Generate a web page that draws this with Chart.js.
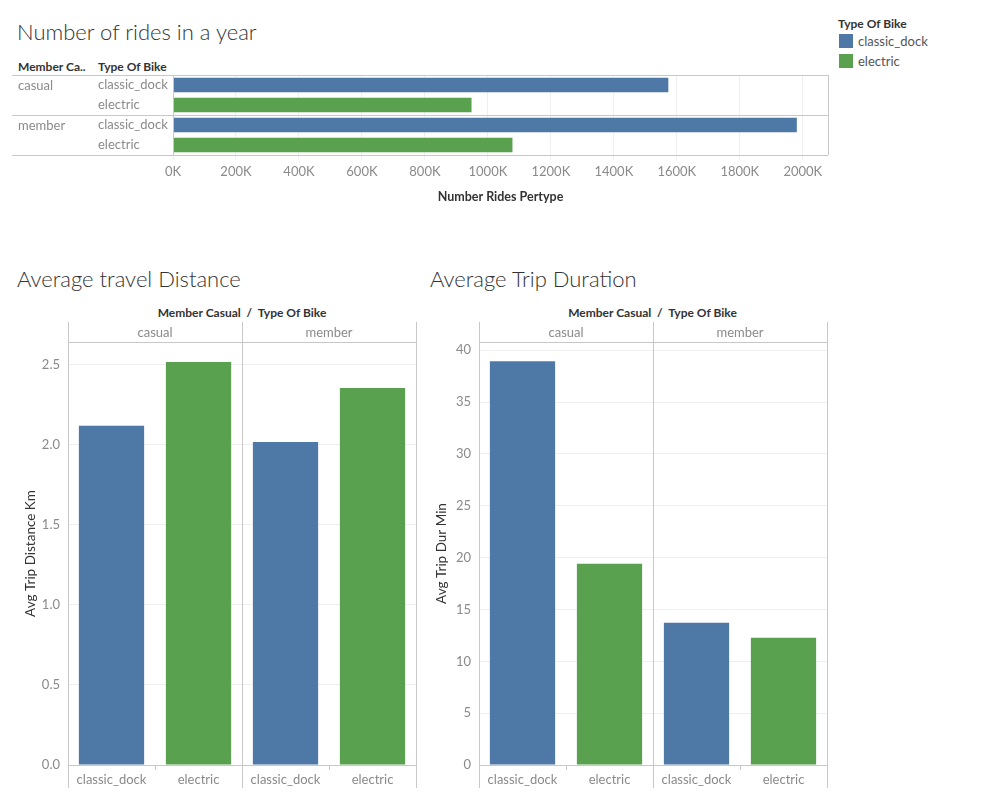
<!DOCTYPE html>
<html>
<head>
<meta charset="utf-8">
<script src="https://cdn.jsdelivr.net/npm/chart.js@4.4.1/dist/chart.umd.min.js"></script>
<style>
body { margin: 0; background: #fff; font-family: Lato, sans-serif; }
#page { position: relative; width: 999px; height: 799px; overflow: hidden; }
.abs { position: absolute; white-space: nowrap; }
.title { font-size: 22px; font-weight: 300; color: #333; line-height: 22px; }
.hdr { font-size: 12px; font-weight: 700; color: #333; line-height: 14px; }
.leg { font-size: 13px; color: #555; line-height: 14px; }
.sw { position: absolute; width: 14px; height: 14px; }
.box { position: absolute; }
</style>
</head>
<body>
<div id="page">
  <div class="abs title" style="left:17px;top:21px;">Number of rides in a year</div>
  <div class="abs hdr" style="left:18px;top:60px;">Member Ca..</div>
  <div class="abs hdr" style="left:98px;top:60px;">Type Of Bike</div>

  <div class="abs hdr" style="left:838px;top:17px;">Type Of Bike</div>
  <div class="sw" id="sw0" style="left:839px;top:34px;"></div>
  <div class="abs leg" style="left:858px;top:34px;">classic_dock</div>
  <div class="sw" id="sw1" style="left:839px;top:54px;"></div>
  <div class="abs leg" style="left:858px;top:54px;">electric</div>

  <div class="abs title" style="left:17px;top:268px;">Average travel Distance</div>
  <div class="abs title" style="left:430px;top:268px;">Average Trip Duration</div>
  <div class="abs hdr" style="left:68px;width:348px;text-align:center;top:306px;">Member Casual&nbsp; /&nbsp; Type Of Bike</div>
  <div class="abs hdr" style="left:478px;width:349px;text-align:center;top:306px;">Member Casual&nbsp; /&nbsp; Type Of Bike</div>

  <div class="box" style="left:0;top:60px;width:840px;height:150px;"><canvas id="ridesChart"></canvas></div>
  <div class="box" style="left:0;top:300px;width:420px;height:499px;"><canvas id="distChart"></canvas></div>
  <div class="box" style="left:420px;top:300px;width:410px;height:499px;"><canvas id="durChart"></canvas></div>
</div>
<script>
// data
var memberTypes = ['casual', 'casual', 'member', 'member'];
var bikeTypes = ['classic_dock', 'electric', 'classic_dock', 'electric'];
var ridesPerType = [1573000, 948000, 1981000, 1078000];
var avgDistanceKm = [2.118, 2.515, 2.016, 2.353];
var avgDurationMin = [38.94, 19.42, 13.72, 12.27];

var rideTicks = [0, 200000, 400000, 600000, 800000, 1000000, 1200000, 1400000, 1600000, 1800000, 2000000];
var distanceTicks = [0, 0.5, 1.0, 1.5, 2.0, 2.5];
var durationTicks = [0, 5, 10, 15, 20, 25, 30, 35, 40];

var bikeColors = { classic_dock: '#4e79a7', electric: '#59a14f' };
var LINE = '#c8c8c8';
var GRID = '#efefef';
var TICK = '#8a8a8a';

document.getElementById('sw0').style.background = bikeColors.classic_dock;
document.getElementById('sw1').style.background = bikeColors.electric;

Chart.defaults.font.family = 'Lato, sans-serif';
Chart.defaults.font.size = 13;
Chart.defaults.color = TICK;
Chart.defaults.animation = false;

function fixedTicks(values) {
    return function(scale) {
        scale.ticks = values.map(function(v) { return { value: v }; });
    };
}

function px(v) { return Math.round(v) + 0.5; }

function hline(ctx, x1, x2, y) {
    ctx.beginPath(); ctx.moveTo(x1, px(y)); ctx.lineTo(x2, px(y)); ctx.stroke();
}
function vline(ctx, x, y1, y2) {
    ctx.beginPath(); ctx.moveTo(px(x), y1); ctx.lineTo(px(x), y2); ctx.stroke();
}

// row frame + member labels for the horizontal chart
var rowFrame = {
    id: 'rowFrame',
    afterDatasetsDraw: function(chart) {
        var ctx = chart.ctx, a = chart.chartArea, y = chart.scales.y;
        ctx.save();
        ctx.strokeStyle = LINE;
        ctx.lineWidth = 1;
        hline(ctx, 12, a.right, a.top);
        hline(ctx, 12, a.right, a.bottom);
        vline(ctx, a.left, a.top, a.bottom);
        vline(ctx, a.right, a.top, a.bottom);
        ctx.font = '13px Lato, sans-serif';
        ctx.fillStyle = TICK;
        ctx.textBaseline = 'middle';
        for (var i = 0; i < memberTypes.length; i++) {
            if (i === 0 || memberTypes[i] !== memberTypes[i - 1]) {
                if (i > 0) hline(ctx, 12, a.right, (y.getPixelForValue(i - 1) + y.getPixelForValue(i)) / 2);
                ctx.fillText(memberTypes[i], 18, y.getPixelForValue(i) + 1);
            }
        }
        ctx.restore();
    }
};

// panel frame with member headers for the column charts
var facetFrame = {
    id: 'facetFrame',
    afterDatasetsDraw: function(chart) {
        var ctx = chart.ctx, a = chart.chartArea, x = chart.scales.x;
        var bounds = [a.left], starts = [0];
        for (var i = 1; i < memberTypes.length; i++) {
            var mid = (x.getPixelForValue(i - 1) + x.getPixelForValue(i)) / 2;
            if (memberTypes[i] !== memberTypes[i - 1]) { bounds.push(mid); starts.push(i); }
        }
        bounds.push(a.right);
        ctx.save();
        ctx.strokeStyle = LINE;
        ctx.lineWidth = 1;
        hline(ctx, a.left, a.right, a.top);
        hline(ctx, a.left, a.right, a.bottom);
        bounds.forEach(function(b) { vline(ctx, b, a.top - 20, a.bottom + 23); });
        for (var j = 1; j < memberTypes.length; j++) {
            if (memberTypes[j] === memberTypes[j - 1]) {
                vline(ctx, (x.getPixelForValue(j - 1) + x.getPixelForValue(j)) / 2, a.bottom, a.bottom + 5);
            }
        }
        ctx.font = '13px Lato, sans-serif';
        ctx.fillStyle = TICK;
        ctx.textAlign = 'center';
        ctx.textBaseline = 'middle';
        for (var k = 0; k < starts.length; k++) {
            ctx.fillText(memberTypes[starts[k]], (bounds[k] + bounds[k + 1]) / 2, a.top - 9);
        }
        ctx.restore();
    }
};

new Chart(document.getElementById('ridesChart'), {
    type: 'bar',
    data: {
        labels: bikeTypes,
        datasets: [{
            data: ridesPerType,
            backgroundColor: bikeTypes.map(function(b) { return bikeColors[b]; }),
            barPercentage: 0.72,
            categoryPercentage: 1
        }]
    },
    options: {
        indexAxis: 'y',
        responsive: true,
        maintainAspectRatio: false,
        layout: { padding: { left: 98, right: 12, top: 15, bottom: 0 } },
        plugins: { legend: { display: false }, tooltip: { enabled: false } },
        scales: {
            x: {
                min: 0, max: 2080000,
                afterBuildTicks: fixedTicks(rideTicks),
                afterFit: function(s) { s.height = 55; },
                grid: { color: GRID, tickColor: GRID, tickLength: 5 },
                border: { display: false },
                ticks: {
                    autoSkip: false, maxRotation: 0, padding: 4,
                    callback: function(v) { return (v / 1000) + 'K'; }
                },
                title: { display: true, text: 'Number Rides Pertype', color: '#333', font: { size: 12.5, weight: 'bold' }, padding: { top: 4, bottom: 6 } }
            },
            y: {
                afterFit: function(s) { s.width = 75; },
                grid: { display: false, drawTicks: false },
                border: { display: false },
                ticks: { crossAlign: 'far', padding: 0 }
            }
        }
    },
    plugins: [rowFrame]
});

function columnChart(id, values, ticks, maxVal, decimals, yTitle, padLeft, padRight) {
    return new Chart(document.getElementById(id), {
        type: 'bar',
        data: {
            labels: bikeTypes,
            datasets: [{
                data: values,
                backgroundColor: bikeTypes.map(function(b) { return bikeColors[b]; }),
                barPercentage: 0.75,
                categoryPercentage: 1
            }]
        },
        options: {
            responsive: true,
            maintainAspectRatio: false,
            layout: { padding: { left: padLeft, right: padRight, top: 42, bottom: 11 } },
            plugins: { legend: { display: false }, tooltip: { enabled: false } },
            scales: {
                x: {
                    afterFit: function(s) { s.height = 23; },
                    grid: { display: false, drawTicks: false },
                    border: { display: false },
                    ticks: { autoSkip: false, maxRotation: 0, padding: 7 }
                },
                y: {
                    min: 0, max: maxVal,
                    afterBuildTicks: fixedTicks(ticks),
                    afterFit: function(s) { s.width = 48; },
                    grid: { color: GRID, drawTicks: false },
                    border: { display: false },
                    ticks: {
                        padding: 8,
                        callback: function(v) { return v.toFixed(decimals); }
                    },
                    title: { display: true, text: yTitle, color: '#333', font: { size: 13.5 }, padding: { top: 3, bottom: 4 } }
                }
            }
        },
        plugins: [facetFrame]
    });
}

columnChart('distChart', avgDistanceKm, distanceTicks, 2.64, 1, 'Avg Trip Distance Km', 20, 4);
columnChart('durChart', avgDurationMin, durationTicks, 40.8, 0, 'Avg Trip Dur Min', 11, 3);
</script>
</body>
</html>
